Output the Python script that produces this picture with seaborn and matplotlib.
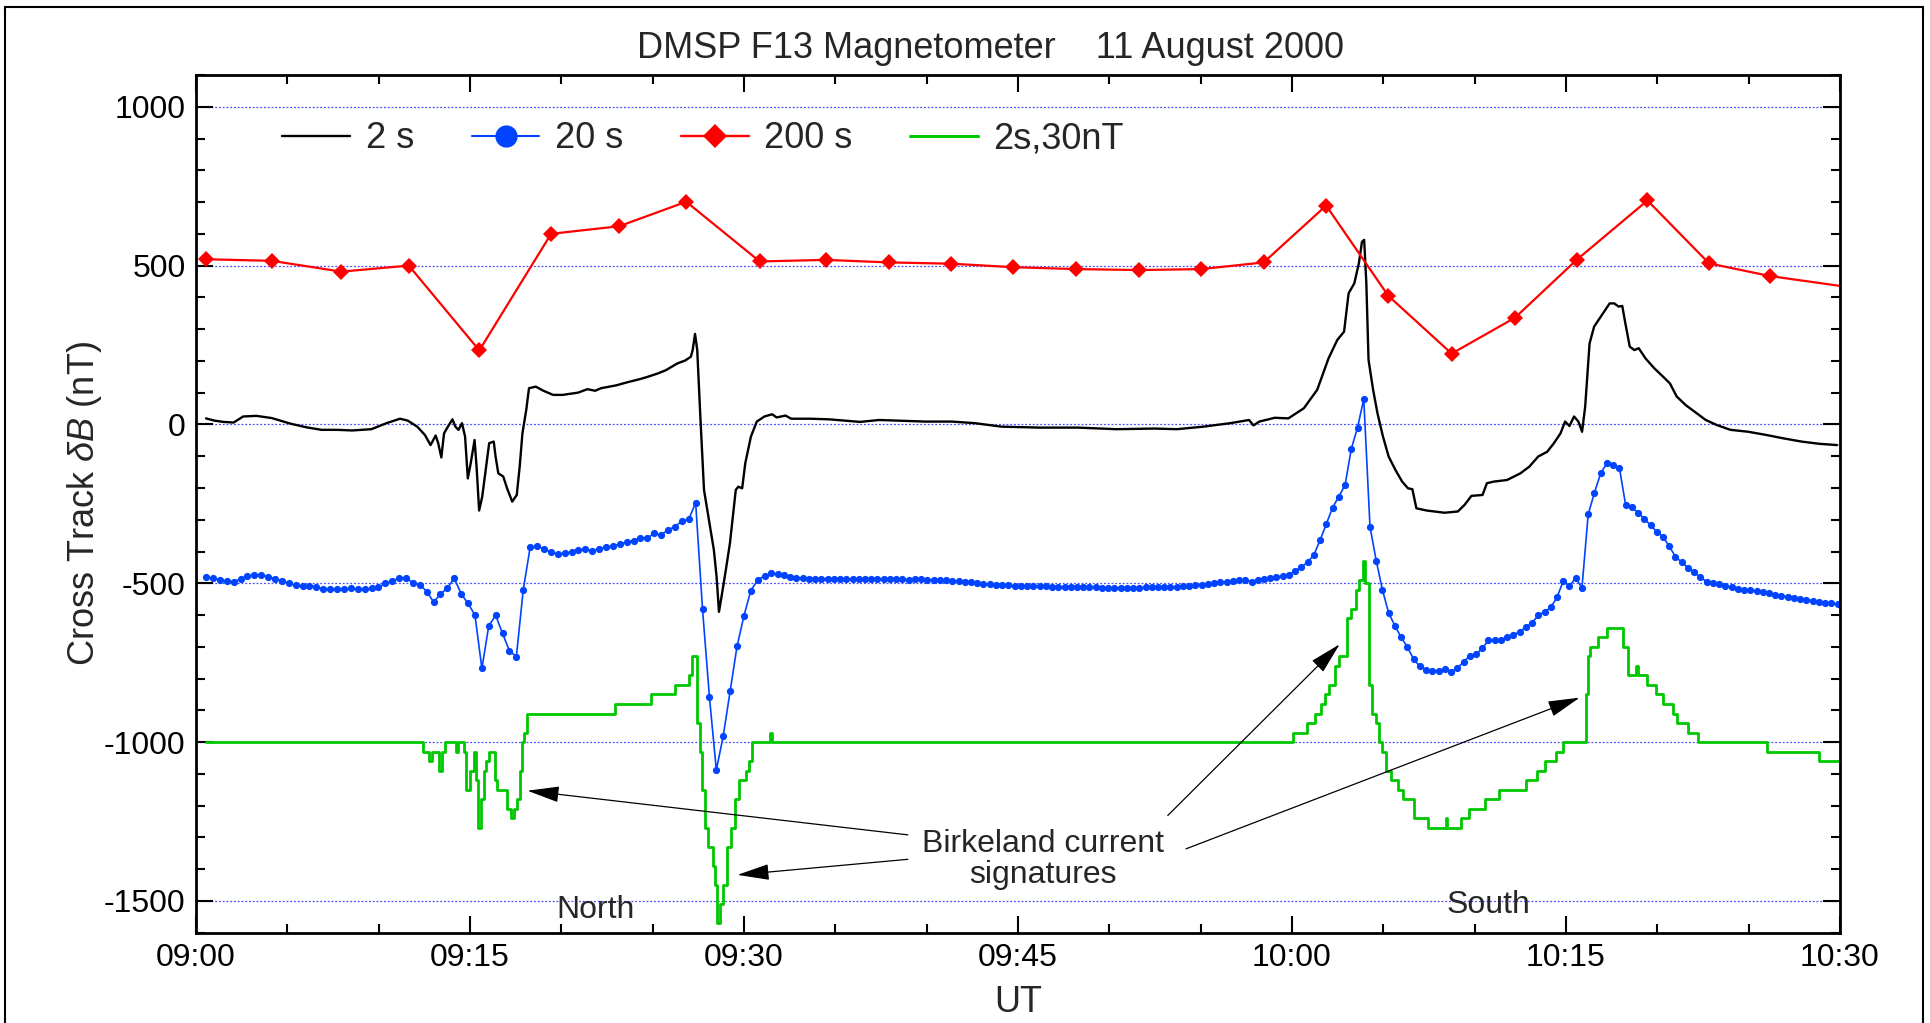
import numpy as np
import matplotlib
matplotlib.use("Agg")
import matplotlib.pyplot as plt
from matplotlib.lines import Line2D
from matplotlib.patches import Rectangle
from matplotlib.ticker import MultipleLocator, FixedLocator
import seaborn as sns

# ---------------- data (minutes after 09:00 UT, nT) ----------------
black_t = [0.55, 1.01, 1.5, 2.06, 2.58, 3.31, 4.15, 5.2, 6.04, 6.87, 7.71, 8.55, 9.6, 10.43, 11.17,
           11.59, 12.11, 12.53, 12.84, 13.12, 13.26, 13.43, 13.58, 13.79, 14.04, 14.2, 14.37, 14.56,
           14.73, 14.88, 15.04, 15.25, 15.36, 15.5, 15.67, 15.88, 16.05, 16.3, 16.4, 16.55, 16.82,
           17.03, 17.31, 17.56, 17.72, 17.87, 18.08, 18.23, 18.6, 19.02, 19.55, 20.07, 20.91, 21.43,
           21.85, 22.17, 23.0, 23.63, 24.26, 24.68, 25.31, 25.73, 26.35, 26.77, 27.09, 27.19, 27.32,
           27.44, 27.61, 27.81, 28.08, 28.35, 28.5, 28.63, 28.77, 29.0, 29.23, 29.55, 29.69, 29.9,
           30.07, 30.38, 30.7, 31.12, 31.54, 31.79, 32.27, 32.58, 33.63, 34.68, 36.35, 37.4, 38.45,
           39.91, 41.38, 42.64, 44.1, 46.2, 48.29, 50.39, 52.48, 53.69, 55.15, 56.62, 57.65, 57.89,
           58.21, 59.06, 59.8, 60.65, 61.38, 62.0, 62.48, 62.85, 63.1, 63.41, 63.66, 63.83, 63.95,
           64.07, 64.19, 64.44, 64.68, 64.98, 65.29, 65.66, 66.03, 66.35, 66.59, 66.81, 67.37, 68.35,
           69.08, 69.45, 69.82, 70.43, 70.67, 71.04, 71.77, 72.5, 72.99, 73.48, 73.97, 74.34, 74.7,
           74.95, 75.19, 75.44, 75.68, 75.88, 76.05, 76.29, 76.54, 76.9, 77.15, 77.39, 77.64, 77.88,
           78.08, 78.25, 78.49, 78.74, 78.98, 79.35, 79.83, 80.32, 80.69, 81.06, 81.55, 82.04, 82.65,
           83.26, 84.0, 84.97, 85.95, 86.92, 87.9, 88.87, 89.85]
black_v = [19, 12, 8, 6, 25, 27, 20, 2, -9, -17, -17, -19, -15, 4, 18,
           12, -7, -33, -65, -35, -59, -104, -28, -7, 16, -7, -17, 4,
           -38, -170, -122, -49, -133, -271, -227, -133, -59, -54, -101, -154, -164,
           -201, -243, -222, -133, -28, 46, 114, 119, 106, 93, 93, 100, 111,
           106, 114, 123, 133, 142, 149, 161, 171, 192, 201, 213, 234, 285,
           234, 25, -206, -301, -395, -480, -590, -542, -460, -374, -206, -196, -201,
           -122, -38, 9, 25, 32, 22, 28, 18, 18, 16, 8, 14, 12,
           9, 9, 4, -7, -10, -10, -15, -13, -15, -7, 4, 14, -3,
           9, 21, 19, 51, 109, 208, 266, 292, 413, 444, 507, 575, 581,
           444, 203, 109, 35, -38, -101, -143, -180, -201, -204, -264, -271, -278,
           -274, -253, -225, -222, -185, -180, -175, -154, -133, -101, -86, -59, -28,
           9, -5, 25, 9, -23, 56, 255, 308, 339, 360, 381, 381, 371,
           373, 318, 245, 234, 240, 208, 177, 150, 129, 88, 61, 40, 14,
           -2, -17, -23, -33, -44, -54, -61, -65]

# 20 s averages (offset -500 nT): two stretches of regular sampling
blue_t0 = 0.55
blue_dt1 = 0.3775
blue_v1 = [-481, -484, -490, -493, -495, -487, -476, -474, -474, -479,
           -485, -493, -500, -506, -508, -508, -511, -519, -518, -519,
           -518, -516, -519, -519, -516, -513, -500, -493, -484, -484,
           -498, -504, -526, -559, -534, -515, -484, -534, -563, -601,
           -768, -634, -601, -658, -713, -731, -521, -387, -383, -391,
           -403, -408, -406, -401, -395, -393, -398, -391, -387, -383,
           -377, -370, -366, -356, -358, -343, -348, -332, -322, -304,
           -299, -246, -582, -858, -1088, -981, -840, -699, -603, -523,
           -490, -477, -469]
blue_dt2 = 0.3413
blue_v2 = [-470, -475, -481, -484, -484, -485, -486, -486, -485, -486,
           -487, -488, -488, -487, -486, -487, -488, -488, -487, -486,
           -488, -489, -488, -488, -489, -490, -490, -491, -492, -493,
           -495, -497, -499, -501, -503, -505, -506, -507, -508, -508,
           -509, -510, -510, -510, -511, -511, -512, -512, -512, -513,
           -513, -513, -514, -514, -514, -514, -514, -514, -514, -513,
           -513, -512, -512, -512, -511, -510, -509, -507, -505, -503,
           -500, -497, -495, -492, -490, -489, -495, -491, -486, -482,
           -480, -478, -474, -460, -450, -433, -411, -364, -313, -262,
           -227, -191, -77, -10, 80, -322, -429, -521, -594, -634,
           -670, -701, -739, -762, -773, -775, -775, -771, -779, -768,
           -747, -729, -724, -705, -680, -680, -678, -670, -663, -652,
           -639, -624, -601, -590, -576, -544, -493, -508, -484, -514,
           -283, -215, -154, -122, -127, -136, -253, -261, -278, -297,
           -317, -338, -353, -384, -416, -434, -451, -466, -481, -495,
           -500, -503, -508, -513, -517, -520, -522, -525, -528, -532,
           -536, -539, -543, -546, -549, -552, -555, -559, -561, -563,
           -565]

red_t = [0.55, 4.15, 7.96, 11.65, 15.51, 19.44, 23.17, 26.84, 30.86, 34.47, 37.93, 41.34, 44.73,
         48.19, 51.65, 55.03, 58.45, 61.87, 65.27, 68.74, 72.21, 75.58, 79.46, 82.83, 86.18, 91.0]
red_v = [520, 515, 481, 500, 233, 600, 624, 701, 513, 518, 510, 506, 495,
         489, 486, 489, 510, 689, 405, 223, 336, 518, 705, 507, 467, 428]

green_t = [0.55, 12.42, 12.78, 12.91, 13.33, 13.47, 13.64, 14.21, 14.35, 14.67, 14.77, 15.0, 15.2,
           15.33, 15.45, 15.6, 15.75, 15.9, 16.05, 16.35, 16.5, 17.05, 17.25, 17.4, 17.6, 17.72,
           17.82, 17.97, 18.1, 22.96, 24.93, 26.21, 26.98, 27.15, 27.45, 27.58, 27.7, 27.85, 28.05,
           28.3, 28.42, 28.52, 28.7, 28.85, 29.05, 29.3, 29.5, 29.7, 30.1, 30.25, 30.42, 31.45,
           31.55, 60.05, 60.82, 61.28, 61.58, 61.79, 62.04, 62.35, 62.6, 62.99, 63.22, 63.52, 63.68,
           63.88, 64.01, 64.19, 64.39, 64.6, 64.77, 64.95, 65.16, 65.41, 65.79, 66.05, 66.69, 67.45,
           68.42, 68.47, 69.24, 69.7, 70.57, 71.33, 72.81, 73.42, 73.83, 74.47, 74.85, 76.08, 76.18,
           76.33, 76.77, 77.23, 78.12, 78.37, 78.83, 78.94, 79.45, 79.91, 80.29, 80.85, 81.1, 81.69,
           82.25, 86.0, 88.84, 90.0]
green_v = [-1000, -1030, -1060, -1030, -1090, -1030, -1000, -1030, -1000, -1030, -1150, -1090, -1030,
           -1120, -1270, -1180, -1090, -1060, -1030, -1120, -1150, -1210, -1240, -1210, -1180, -1090,
           -1000, -970, -910, -880, -850, -820, -790, -730, -940, -1030, -1150, -1270, -1330,
           -1390, -1450, -1570, -1510, -1450, -1330, -1270, -1180, -1120, -1090, -1060, -1000, -970,
           -1000, -970, -940, -910, -880, -850, -820, -760, -730, -610, -580, -520, -490,
           -430, -500, -820, -910, -940, -1000, -1030, -1090, -1120, -1150, -1180, -1240, -1270,
           -1240, -1270, -1240, -1210, -1180, -1150, -1120, -1090, -1060, -1030, -1000, -850, -730,
           -700, -670, -640, -700, -790, -760, -790, -820, -850, -880, -910, -940, -970,
           -1000, -1030, -1060, -1060]

x_ticks = [0, 15, 30, 45, 60, 75, 90]
x_labels = ["09:00", "09:15", "09:30", "09:45", "10:00", "10:15", "10:30"]
y_ticks = [-1500, -1000, -500, 0, 500, 1000]
y_labels = ["-1500", "-1000", "-500", "0", "500", "1000"]
legend_labels = ["2 s", "20 s", "200 s", "2s,30nT"]

# sample times of the 20 s series
t_seg1 = blue_t0 + blue_dt1 * np.arange(len(blue_v1))
t_seg2 = t_seg1[-1] + blue_dt2 * np.arange(1, len(blue_v2) + 1)
blue_t = np.concatenate([t_seg1, t_seg2])
blue_v = np.array(blue_v1 + blue_v2)

# ---------------- style ----------------
sns.set_style("ticks")
plt.rcParams["font.family"] = ["Liberation Sans", "DejaVu Sans"]
plt.rcParams["axes.unicode_minus"] = False
plt.rcParams["mathtext.fontset"] = "custom"
plt.rcParams["mathtext.rm"] = "Liberation Sans"
plt.rcParams["mathtext.it"] = "Liberation Sans:italic"

C_BLACK = "#000000"
C_BLUE = "#0044ff"
C_RED = "#ff0000"
C_GREEN = "#00c800"

W, H = 1931, 1023
fig = plt.figure(figsize=(W / 100, H / 100), dpi=100)
ax = fig.add_axes([196 / W, 1 - 932.7 / H, 1644 / W, 857.7 / H])

sns.lineplot(x=black_t, y=black_v, ax=ax, color=C_BLACK, lw=1.7, sort=False,
             estimator=None, legend=False)
sns.lineplot(x=blue_t, y=blue_v, ax=ax, color=C_BLUE, lw=1.2, marker="o", markersize=5.2,
             markeredgewidth=0, sort=False, estimator=None, legend=False)
sns.lineplot(x=red_t, y=red_v, ax=ax, color=C_RED, lw=1.6, marker="D", markersize=7.8,
             markeredgewidth=0, sort=False, estimator=None, legend=False)
sns.lineplot(x=green_t, y=green_v, ax=ax, color=C_GREEN, lw=2.0, drawstyle="steps-post",
             sort=False, estimator=None, legend=False)

ax.set_xlim(0, 90)
ax.set_ylim(-1600, 1100)
ax.xaxis.set_major_locator(FixedLocator(x_ticks))
ax.set_xticklabels(x_labels)
ax.xaxis.set_minor_locator(MultipleLocator(5))
ax.yaxis.set_major_locator(FixedLocator(y_ticks))
ax.set_yticklabels(y_labels)
ax.yaxis.set_minor_locator(MultipleLocator(100))
ax.set_xlabel("")
ax.set_ylabel("")

ax.tick_params(which="both", direction="in", top=True, right=True, width=1.5,
               labelsize=23, color="black", labelcolor="black")
ax.tick_params(which="major", length=12.5, pad=7.5)
ax.tick_params(which="minor", length=6.5)
for s in ax.spines.values():
    s.set_linewidth(2.0)
    s.set_color("black")

ax.set_axisbelow(True)
ax.yaxis.grid(True, which="major", color="#4a4aff", linestyle=(0, (1.5, 1.5)), linewidth=0.9)
ax.xaxis.grid(False)

# legend
handles = [
    Line2D([], [], color=C_BLACK, lw=1.7),
    Line2D([], [], color=C_BLUE, lw=1.5, marker="o", markersize=16, markeredgewidth=0),
    Line2D([], [], color=C_RED, lw=1.7, marker="D", markersize=12, markeredgewidth=0),
    Line2D([], [], color=C_GREEN, lw=2.2),
]
ax.legend(handles, legend_labels, ncol=4, loc="center left", bbox_to_anchor=(0.0526, 0.9254),
          frameon=False, fontsize=26, handlelength=1.88, handletextpad=0.44,
          columnspacing=1.58, borderpad=0, borderaxespad=0)

# texts
fig.text(991 / W, 1 - 48 / H, "DMSP F13 Magnetometer    11 August 2000", ha="center",
         va="center", fontsize=26)
fig.text(85 / W, 1 - 504 / H, r"Cross Track $\delta B$ (nT)", rotation=90, ha="center",
         va="center", fontsize=26)
fig.text(1018 / W, 1 - 1002.5 / H, "UT", ha="center", va="center", fontsize=26)

ax.text(21.9, -1553, "North", ha="center", va="baseline", fontsize=23)
ax.text(70.77, -1538, "South", ha="center", va="baseline", fontsize=23)
ax.text(46.36, -1345, "Birkeland current", ha="center", va="baseline", fontsize=23)
ax.text(46.36, -1443, "signatures", ha="center", va="baseline", fontsize=23)

arrows = [((18.14, -1153), (38.97, -1292)),
          ((29.64, -1418), (38.97, -1369)),
          ((62.61, -692), (53.2, -1231)),
          ((75.75, -860), (54.2, -1336))]
for tip, tail in arrows:
    ax.annotate("", xy=tip, xytext=tail,
                arrowprops=dict(arrowstyle="-|>,head_length=2.0,head_width=0.5",
                                mutation_scale=10, lw=0.9, color="black",
                                shrinkA=0, shrinkB=0))

# outer frame
fig.add_artist(Rectangle((5 / W, -0.05), (1923 - 5) / W, 1.05 - 7 / H,
                         transform=fig.transFigure, fill=False, lw=1.5, ec="black"))

fig.savefig("out.png", dpi=100)
